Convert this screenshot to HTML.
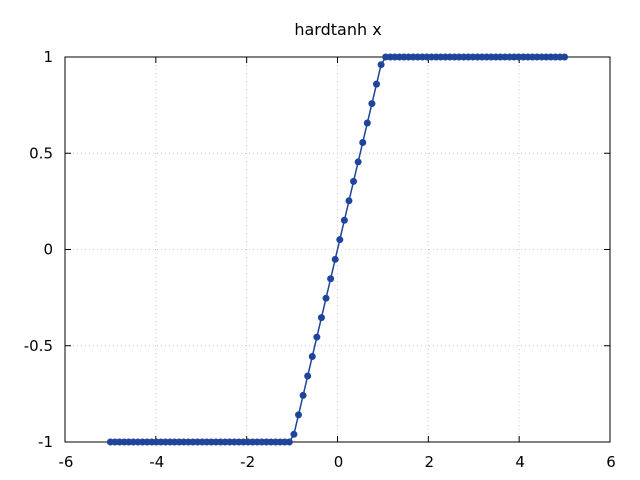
<!DOCTYPE html>
<html><head><meta charset="utf-8"><style>
body{margin:0;background:#fff}
svg{display:block;font-family:"DejaVu Sans","Liberation Sans",sans-serif}
</style></head><body>
<svg id="chart" width="640" height="480">
<text x="338" y="35" text-anchor="middle" font-size="16">hardtanh x</text>
<g id="grid"></g><g id="axes"></g><g id="series"></g>
</svg>
<script>
const xTicks=[-6,-4,-2,0,2,4,6];
const yTicks=[-1,-0.5,0,0.5,1];
const yTickLabels=["-1","-0.5","0","0.5","1"];
const yValues=[-1,-1,-1,-1,-1,-1,-1,-1,-1,-1,-1,-1,-1,-1,-1,-1,-1,-1,-1,-1,
-1,-1,-1,-1,-1,-1,-1,-1,-1,-1,-1,-1,-1,-1,-1,-1,-1,-1,-1,-1,
-0.96,-0.859,-0.758,-0.657,-0.556,-0.455,-0.354,-0.253,-0.152,-0.051,
0.051,0.152,0.253,0.354,0.455,0.556,0.657,0.758,0.859,0.96,
1,1,1,1,1,1,1,1,1,1,1,1,1,1,1,1,1,1,1,1,
1,1,1,1,1,1,1,1,1,1,1,1,1,1,1,1,1,1,1,1];
const xMin=-5,xMax=5;
const L=65,R=610,T=57,B=442;
const sx=v=>L+(v+6)/12*(R-L);
const sy=v=>B-(v+1)/2*(B-T);
const NS="http://www.w3.org/2000/svg";
function mk(tag,attrs,parent){const e=document.createElementNS(NS,tag);for(const k in attrs)e.setAttribute(k,attrs[k]);parent.appendChild(e);return e;}
const grid=document.getElementById('grid'),axes=document.getElementById('axes'),series=document.getElementById('series');
xTicks.forEach((t,i)=>{
  const x=sx(t);
  if(i>0&&i<xTicks.length-1){const g=mk('line',{x1:x,x2:x,y1:T,y2:B,stroke:'#ccc','stroke-dasharray':'1,3','stroke-width':1},grid);
  
  }
  mk('line',{x1:x,x2:x,y1:B,y2:B-6,stroke:'#000'},axes);
  mk('line',{x1:x,x2:x,y1:T,y2:T+6,stroke:'#000'},axes);
  const tx=mk('text',{x:x+1,y:B+25,'text-anchor':'middle','font-size':15},axes);
  tx.textContent=String(t);
  
  
});
yTicks.forEach((t,i)=>{
  const y=sy(t);
  if(i>0&&i<yTicks.length-1){const g=mk('line',{x1:L,x2:R,y1:y,y2:y,stroke:'#ccc','stroke-dasharray':'1,3','stroke-width':1},grid);
  
  }
  mk('line',{x1:L,x2:L+6,y1:y,y2:y,stroke:'#000'},axes);
  mk('line',{x1:R,x2:R-6,y1:y,y2:y,stroke:'#000'},axes);
  const tx=mk('text',{x:L-12,y:y+5,'text-anchor':'end','font-size':15},axes);
  tx.textContent=yTickLabels[i];
  
  
});
const frame=mk('rect',{x:L,y:T,width:R-L,height:B-T,fill:'none',stroke:'#000','stroke-width':1},axes);


const pts=yValues.map((v,i)=>[sx(xMin+i*(xMax-xMin)/(yValues.length-1)),sy(v)]);
const line=mk('polyline',{points:pts.map(p=>p.join(',')).join(' '),fill:'none',stroke:'#1f449c','stroke-width':1.5},series);


pts.forEach(p=>{
  const c=mk('circle',{cx:p[0],cy:p[1],r:3.5,fill:'#1f449c'},series);
  
  
});
</script>
</body></html>
